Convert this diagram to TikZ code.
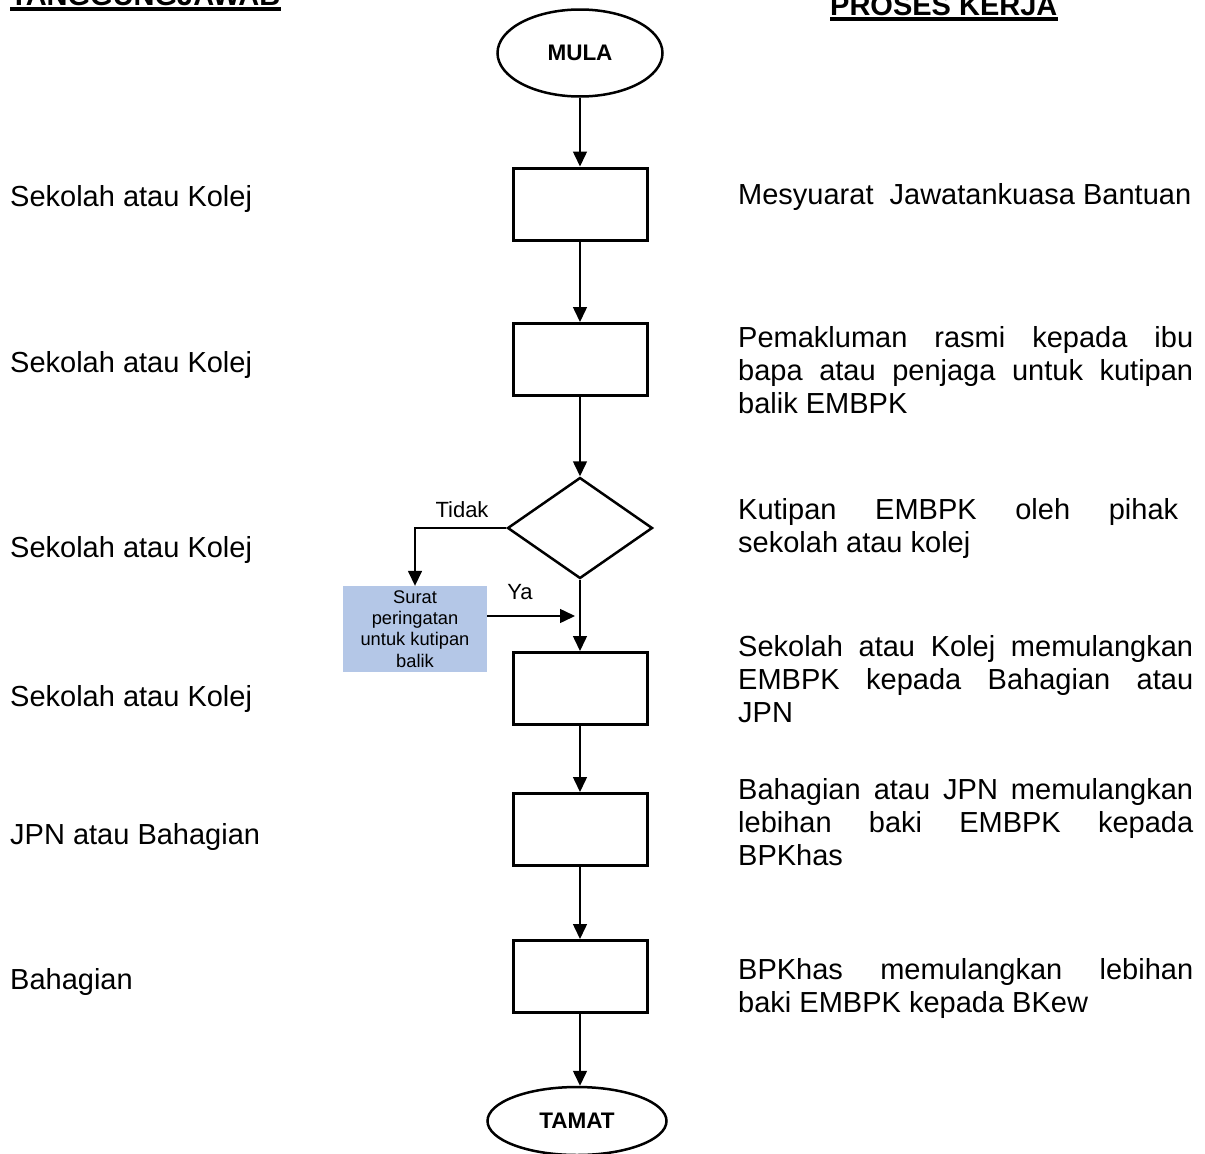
\documentclass[tikz,border=0pt]{standalone}
\usepackage{fontspec}
\setmainfont{Liberation Sans}
\usetikzlibrary{shapes.geometric,arrows.meta}
\definecolor{notefill}{RGB}{180,199,231}
% one justified line of the right-hand column
\newcommand\jline[2][455pt]{\makebox[#1][s]{#2}}
\begin{document}
\begin{tikzpicture}[x=1pt,y=-1pt,
  body/.style={font=\fontsize{29}{33}\selectfont, inner sep=0pt, anchor=base west},
  head/.style={font=\bfseries\fontsize{29}{33}\selectfont, inner sep=0pt, anchor=base west},
  stepbox/.style={draw, line width=3pt, minimum width=134pt, minimum height=72pt, inner sep=0pt},
  term/.style={ellipse, draw, line width=2.5pt, inner sep=0pt, font=\bfseries\fontsize{22.5}{26}\selectfont},
  decision/.style={diamond, draw, line width=2.5pt, inner sep=0pt, minimum width=145pt, minimum height=101pt},
  note/.style={fill=notefill, minimum width=144pt, minimum height=86pt, inner sep=0pt, align=center, font=\fontsize{18.3}{21.3}\selectfont},
  lab/.style={inner sep=0pt, font=\fontsize{22}{26}\selectfont},
  flow/.style={line width=1.5pt, -{Triangle[length=15pt,width=14pt]}}]
\useasboundingbox (0,0) rectangle (1205,1154);
\clip (0,0) rectangle (1205,1154);

% column headings
\node[head] (h1) at (10,5) {TANGGUNGJAWAB};
\node[head] (h2) at (830,15) {PROSES KERJA};
\draw[line width=3.5pt] ([yshift=-4pt]h1.base west) -- ([yshift=-4pt]h1.base east);
\draw[line width=3.5pt] ([yshift=-4pt]h2.base west) -- ([yshift=-4pt]h2.base east);

% flow chart
\node[term, minimum width=165pt, minimum height=87pt] (start) at (580,53) {MULA};
\node[stepbox] (b1) at (580,204) {};
\node[stepbox] (b2) at (580,359.5) {};
\node[decision] (dec) at (580,528) {};
\node[note] (warn) at (415,629) {Surat\\peringatan\\untuk kutipan\\balik};
\node[stepbox] (b3) at (580,688.5) {};
\node[stepbox] (b4) at (580,829.5) {};
\node[stepbox] (b5) at (580,976.5) {};
\node[term, minimum width=179pt, minimum height=68pt] (stop) at (577,1121) {TAMAT};
\coordinate (yaend) at (575,616);

\draw[flow] (start) -- (b1);
\draw[flow] (b1) -- (b2);
\draw[flow] (b2) -- (dec);
\draw[flow] (dec) -- (b3);
\draw[flow] (b3) -- (b4);
\draw[flow] (b4) -- (b5);
\draw[flow] (b5.south) -- (b5.south |- stop.north);
\draw[flow] (dec.west) -| (warn.north);
\draw[flow] ([yshift=13pt]warn.east) -- (yaend);
\node[lab] (tidak) at (462,510) {Tidak};
\node[lab] (ya) at (520,592) {Ya};

% responsibility column
\node[body] (r1) at (10,206) {Sekolah atau Kolej};
\node[body] (r2) at (10,372) {Sekolah atau Kolej};
\node[body] (r3) at (10,557) {Sekolah atau Kolej};
\node[body] (r4) at (10,706) {Sekolah atau Kolej};
\node[body] (r5) at (10,844) {JPN atau Bahagian};
\node[body] (r6) at (10,989) {Bahagian};

% process column
\node[body] (p1) at (738,204) {Mesyuarat~ Jawatankuasa Bantuan};
\node[body] (p2) at (738,347) {\parbox[t]{455pt}{\jline{Pemakluman rasmi kepada ibu}\\
  \jline{bapa atau penjaga untuk kutipan}\\balik EMBPK}};
\node[body] (p3) at (738,519) {\parbox[t]{455pt}{\jline[440pt]{Kutipan EMBPK oleh pihak}\\
  sekolah atau kolej}};
\node[body] (p4) at (738,656) {\parbox[t]{455pt}{\jline{Sekolah atau Kolej memulangkan}\\
  \jline{EMBPK kepada Bahagian atau}\\JPN}};
\node[body] (p5) at (738,799) {\parbox[t]{455pt}{\jline{Bahagian atau JPN memulangkan}\\
  \jline{lebihan baki EMBPK kepada}\\BPKhas}};
\node[body] (p6) at (738,979) {\parbox[t]{455pt}{\jline{BPKhas memulangkan lebihan}\\
  baki EMBPK kepada BKew}};
\end{tikzpicture}
\end{document}
